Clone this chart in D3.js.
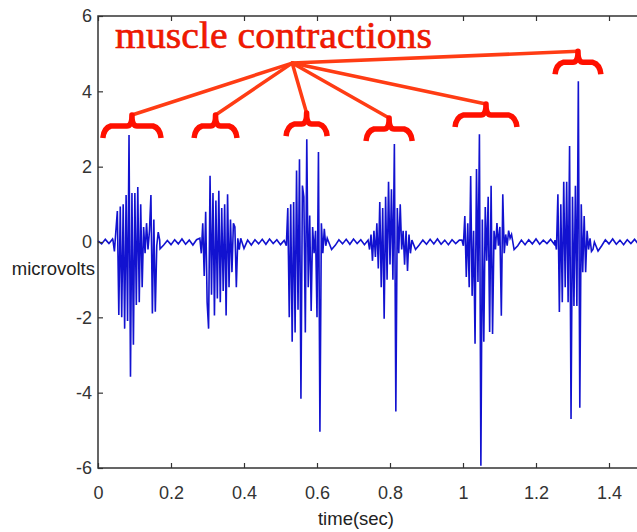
<!DOCTYPE html>
<html>
<head>
<meta charset="utf-8">
<script src="https://cdn.jsdelivr.net/npm/d3@7"></script>
<style>
  body { margin: 0; background: #fff; }
  svg { display: block; }
  text { font-family: "Liberation Sans", Arial, sans-serif; }
</style>
</head>
<body>
<svg id="chart" width="637" height="532"></svg>
<script>
/*********************
	Data
**********************/
// resting ripple, one value every 0.01 s from 0 to 1.5 s
var restStep = 0.01;
var rest = [
	0.03,-0.05,0.07,-0.04,0.08,-0.06,0.05,-0.07,0.06,-0.03,
	0.05,-0.06,0.08,-0.05,0.06,-0.04,0.07,-0.18,-0.08,0.04,
	-0.07,0.06,-0.05,0.08,-0.06,0.05,-0.08,0.06,-0.04,0.07,
	-0.06,0.05,-0.07,0.08,-0.05,0.06,-0.04,0.07,-0.06,-0.15,
	-0.17,0.05,-0.08,0.06,-0.05,0.07,-0.06,0.08,-0.04,0.06,
	-0.07,0.04,0.00,0.00,0.00,0.00,0.00,0.00,0.00,0.00,
	0.00,0.00,0.00,0.00,-0.20,-0.09,0.06,-0.05,0.07,-0.06,
	0.08,-0.04,0.06,-0.07,0.05,0.00,0.00,0.00,0.00,0.00,
	0.00,0.00,0.00,0.00,0.00,0.00,0.00,-0.20,-0.08,0.05,
	-0.06,0.07,-0.05,0.08,-0.06,0.05,-0.07,0.06,-0.04,0.05,
	0.00,0.00,0.00,0.00,0.00,0.00,0.00,0.00,0.00,0.00,
	0.00,0.00,0.00,0.00,-0.20,-0.10,0.05,-0.07,0.06,-0.05,
	0.08,-0.06,0.05,-0.04,0.07,-0.06,0.00,0.00,0.00,0.00,
	0.00,0.00,0.00,0.00,0.00,0.00,0.00,-0.24,-0.10,0.06,
	-0.05,0.08,-0.06,0.05,-0.07,0.06,-0.04,0.07,-0.05,0.06,
	-0.04
];

// contraction bursts, one value every 0.004 s from each start time
var burstStep = 0.004;
var burstStart = [0.041, 0.279, 0.512, 0.740, 0.997, 1.252];
var burst1 = [0.05,-0.25,0.3,0.82,-1.94,0.94,-2.0,1.0,-2.3,1.25,-2.1,2.84,-3.58,1.3,-2.73,1.3,-1.67,1.46,-1.6,1.0,-1.2,0.4,-0.3,0.5,-0.2,0.3,1.25,-1.9,0.6,-1.85,-0.1,0.26,0.05];
var burst2 = [0.1,-0.3,0.5,-0.9,0.8,-1.6,-2.3,1.76,-1.4,1.3,-1.95,1.1,-1.5,1.36,-1.6,0.9,-1.3,1.0,-1.95,1.27,-1.2,0.6,-0.8,0.5,0.4,-1.2,0.1,-0.2,0.1];
var burst3 = [0.0,-0.1,0.9,-2.0,1.0,-2.65,1.06,-2.4,1.9,-1.8,2.2,-4.16,1.5,1.2,-2.4,2.73,-1.2,0.7,-1.83,0.4,-0.3,0.3,-2.0,2.39,-5.04,0.5,-0.3,0.35,-0.1,0.1,0.0];
var burst4 = [0.05,-0.2,0.2,-0.5,0.3,-0.4,0.5,-0.7,1.06,-1.2,0.9,-2.04,1.2,-1.0,1.6,-0.6,1.4,-1.0,2.6,-4.5,0.9,-0.3,1.0,-0.2,0.3,-0.6,0.3,-0.77,0.2,-0.3,0.05];
var burst5 = [0.05,-0.1,0.69,-0.93,0.5,-1.2,1.75,-1.43,0.3,-2.7,1.94,-1.06,2.86,-5.94,0.6,-2.65,0.93,-0.5,1.2,-2.39,1.49,-2.44,0.3,-0.2,0.5,-0.1,0.4,-1.96,1.27,-0.3,0.2,-0.1,0.3,0.1,0.2];
var burst6 = [0.05,-0.2,1.27,-1.86,1.0,-1.6,1.6,-1.2,1.6,-1.6,2.55,-4.7,1.2,-1.7,1.49,-1.7,4.27,-4.4,1.0,-0.8,0.69,-0.8,0.3,-0.2,0.1,-0.25,-0.2,0.0];
var bursts = [burst1, burst2, burst3, burst4, burst5, burst6];

var xTicks = [0, 0.2, 0.4, 0.6, 0.8, 1, 1.2, 1.4];
var yTicks = [-6, -4, -2, 0, 2, 4, 6];

// braces over each contraction: [start time, end time, level in microvolts]
var braces = [[0.016,0.170,3.08],[0.266,0.378,3.08],[0.518,0.625,3.13],[0.737,0.858,3.0],[0.981,1.145,3.37],[1.255,1.375,4.77]];
var hub = [0.532, 4.75];


/*********************
	Build the signal
**********************/
var spans = bursts.map(function(b, i){
	return [burstStart[i], burstStart[i] + (b.length - 1) * burstStep];
});

var points = [];
rest.forEach(function(v, i){
	var t = i * restStep;
	var inside = spans.some(function(s){ return t >= s[0] - 1e-9 && t <= s[1] + 1e-9; });
	if (!inside) points.push([t, v]);
});
bursts.forEach(function(b, i){
	b.forEach(function(v, j){ points.push([burstStart[i] + j * burstStep, v]); });
});
points.sort(function(a, b){ return a[0] - b[0]; });


/*********************
	Draw
**********************/
var svg = d3.select("#chart");
var x = d3.scaleLinear().domain([0, 1.5]).range([98, 98 + 1.5 * 365]);
var y = d3.scaleLinear().domain([-6, 6]).range([468, 16]);

svg.append("path")
	.datum(points)
	.attr("fill", "none")
	.attr("stroke", "#1212d0")
	.attr("stroke-width", 1.6)
	.attr("stroke-linejoin", "miter")
	.attr("d", d3.line().x(function(d){ return x(d[0]); }).y(function(d){ return y(d[1]); }));

// axes, ticks point inwards; plain hyphen for negative labels
var plain = function(d){ return String(d); };
var xAxis = svg.append("g").attr("transform", "translate(0,468)")
	.call(d3.axisBottom(x).tickValues(xTicks).tickFormat(plain).tickSizeInner(-5).tickSizeOuter(0).tickPadding(18));
var xTop = svg.append("g").attr("transform", "translate(0,16)")
	.call(d3.axisTop(x).tickValues(xTicks).tickFormat("").tickSizeInner(-5).tickSizeOuter(0));
var yAxis = svg.append("g").attr("transform", "translate(98,0)")
	.call(d3.axisLeft(y).tickValues(yTicks).tickFormat(plain).tickSizeInner(-5).tickSizeOuter(0).tickPadding(6));

[xAxis, xTop, yAxis].forEach(function(g){
	g.select(".domain").remove();
	g.selectAll(".tick line").attr("stroke", "#333").attr("stroke-width", 1.2);
	g.selectAll(".tick text").attr("fill", "#333").style("font-size", "18px")
		.style("font-family", "'Liberation Sans', Arial, sans-serif");
});

svg.append("rect")
	.attr("x", 98).attr("y", 16)
	.attr("width", x(1.5) - 98).attr("height", 452)
	.attr("fill", "none").attr("stroke", "#333").attr("stroke-width", 1.5);

svg.append("text").attr("x", 95).attr("y", 275).attr("text-anchor", "end")
	.attr("fill", "#222").style("font-size", "18.5px").text("microvolts");
svg.append("text").attr("x", 356).attr("y", 525).attr("text-anchor", "middle")
	.attr("fill", "#222").style("font-size", "18.5px").text("time(sec)");

// annotation
function bracePath(b){
	var x0 = x(b[0]), x1 = x(b[1]), cx = (x0 + x1) / 2, h = y(b[2]);
	var r = 7, up = 11, down = 12;
	return "M" + (x0 - 1) + "," + (h + down) +
		" Q" + x0 + "," + (h + 2) + " " + (x0 + r) + "," + h +
		" L" + (cx - 5) + "," + h +
		" Q" + cx + "," + h + " " + cx + "," + (h - up) +
		" Q" + cx + "," + h + " " + (cx + 5) + "," + h +
		" L" + (x1 - r) + "," + h +
		" Q" + x1 + "," + (h + 2) + " " + (x1 + 1) + "," + (h + down);
}

var ann = svg.append("g");
braces.forEach(function(b){
	ann.append("line")
		.attr("x1", x(hub[0])).attr("y1", y(hub[1]))
		.attr("x2", (x(b[0]) + x(b[1])) / 2).attr("y2", y(b[2]) - 11)
		.attr("stroke", "#ff3c14").attr("stroke-width", 3.5).attr("stroke-linecap", "round");
});
ann.selectAll("path.brace").data(braces).enter().append("path")
	.attr("class", "brace")
	.attr("d", bracePath)
	.attr("fill", "none").attr("stroke", "#ff1000").attr("stroke-width", 5.5)
	.attr("stroke-linejoin", "round");

ann.append("text")
	.attr("x", 115).attr("y", 48)
	.attr("fill", "#f51a00").attr("stroke", "#e01000").attr("stroke-width", 0.6)
	.attr("textLength", 317).attr("lengthAdjust", "spacingAndGlyphs")
	.style("font-family", "'Liberation Serif', 'Times New Roman', serif")
	.style("font-size", "38px")
	.text("muscle contractions");
</script>
</body>
</html>
